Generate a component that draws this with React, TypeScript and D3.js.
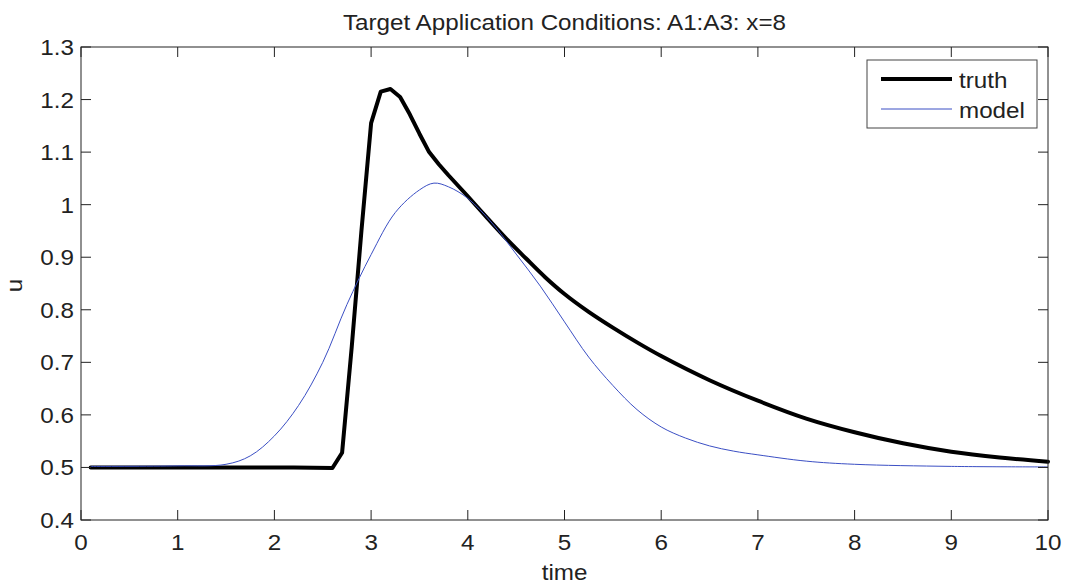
import React, { useEffect, useRef } from "react";
import * as d3 from "d3";

const W = 1067;
const H = 586;

const title = "Target Application Conditions: A1:A3: x=8";
const xLabel = "time";
const yLabel = "u";
const xTicks = [0, 1, 2, 3, 4, 5, 6, 7, 8, 9, 10];
const yTicks = [0.4, 0.5, 0.6, 0.7, 0.8, 0.9, 1, 1.1, 1.2, 1.3];

const truthT = [0.1, 1, 2, 2.2, 2.6, 2.7, 2.8, 2.9, 3.0, 3.1, 3.2, 3.3, 3.4, 3.5, 3.6, 3.7, 3.8, 3.9, 4.0, 4.2, 4.4, 4.6, 4.8, 5.0, 5.25, 5.5, 5.75, 6.0, 6.5, 7.0, 7.5, 8.0, 8.5, 9.0, 9.5, 10];
const truthU = [0.5, 0.5, 0.5, 0.5, 0.499, 0.528, 0.73, 0.95, 1.155, 1.215, 1.22, 1.205, 1.172, 1.135, 1.1, 1.077, 1.056, 1.036, 1.016, 0.975, 0.935, 0.898, 0.862, 0.83, 0.796, 0.766, 0.738, 0.712, 0.666, 0.627, 0.593, 0.567, 0.546, 0.53, 0.519, 0.511];

const modelT = [0.1, 1.0, 1.5, 1.75, 2.0, 2.25, 2.5, 2.75, 3.0, 3.25, 3.5, 3.65, 3.8, 4.0, 4.25, 4.5, 4.75, 5.0, 5.25, 5.5, 5.75, 6.0, 6.25, 6.5, 6.75, 7.0, 7.5, 8.0, 9.0, 10];
const modelU = [0.502, 0.503, 0.506, 0.522, 0.56, 0.618, 0.70, 0.81, 0.905, 0.985, 1.028, 1.041, 1.034, 1.012, 0.965, 0.906, 0.845, 0.777, 0.71, 0.656, 0.61, 0.577, 0.556, 0.541, 0.531, 0.524, 0.512, 0.506, 0.502, 0.501];

const legendNames = ["truth", "model"];
const colors = ["#000000", "#3b4fc4"];
const widths = [4, 1];

export default function App() {
  const ref = useRef<SVGSVGElement>(null);

  useEffect(() => {
    const svg = d3.select(ref.current);
    svg.selectAll("*").remove();
    const left = 81, right = 1048, top = 47, bottom = 520;
    const x = d3.scaleLinear().domain([0, 10]).range([left, right]);
    const y = d3.scaleLinear().domain([0.4, 1.3]).range([bottom, top]);
    const font = "'Liberation Sans', Arial, Helvetica, sans-serif";
    const fs = 22;
    const sx = 1.1;
    const tl = 10;

    const label = (tx: number, ty: number, s: string, anchor: string, rot = 0) =>
      svg.append("text")
        .attr("transform", `translate(${tx},${ty}) rotate(${rot}) scale(${sx},1)`)
        .attr("text-anchor", anchor)
        .attr("font-family", font).attr("font-size", fs).attr("fill", "#222").text(s);

    svg.append("rect").attr("width", W).attr("height", H).attr("fill", "#fff");

    const curveLine = d3.line<[number, number]>()
      .x((d) => x(d[0])).y((d) => y(d[1])).curve(d3.curveCatmullRom.alpha(0.5));
    const straightLine = d3.line<[number, number]>()
      .x((d) => x(d[0])).y((d) => y(d[1])).curve(d3.curveLinear);

    const truth = truthT.map((t, i) => [t, truthU[i]] as [number, number]);
    const model = modelT.map((t, i) => [t, modelU[i]] as [number, number]);
    const split = truthT.indexOf(4.0);
    const truthPath =
      (straightLine(truth.slice(0, split + 1)) as string) +
      (curveLine(truth.slice(split - 1)) as string);

    svg.append("path").attr("d", truthPath)
      .attr("fill", "none").attr("stroke", colors[0])
      .attr("stroke-width", widths[0]).attr("stroke-linejoin", "round").attr("stroke-linecap", "round");
    svg.append("path").attr("d", curveLine(model) as string)
      .attr("fill", "none").attr("stroke", colors[1])
      .attr("stroke-width", widths[1]).attr("stroke-linejoin", "round");

    const ax = svg.append("g").attr("stroke", "#222").attr("stroke-width", 1).attr("fill", "none");
    ax.append("rect").attr("x", left).attr("y", top).attr("width", right - left).attr("height", bottom - top);
    xTicks.forEach((t) => {
      ax.append("line").attr("x1", x(t)).attr("x2", x(t)).attr("y1", bottom).attr("y2", bottom - tl);
      ax.append("line").attr("x1", x(t)).attr("x2", x(t)).attr("y1", top).attr("y2", top + tl);
      label(x(t), bottom + 30, String(t), "middle");
    });
    yTicks.forEach((t) => {
      ax.append("line").attr("x1", left).attr("x2", left + tl).attr("y1", y(t)).attr("y2", y(t));
      ax.append("line").attr("x1", right).attr("x2", right - tl).attr("y1", y(t)).attr("y2", y(t));
      label(left - 7, y(t) + 8, d3.format("~g")(t), "end");
    });

    label((left + right) / 2, 30, title, "middle");
    label((left + right) / 2, 580, xLabel, "middle");
    label(22, (top + bottom) / 2 + 2, yLabel, "middle", -90);

    svg.append("rect").attr("x", 867).attr("y", 60).attr("width", 170).attr("height", 68)
      .attr("fill", "#fff").attr("stroke", "#444").attr("stroke-width", 1);
    legendNames.forEach((n, i) => {
      const ly = 79 + i * 30;
      svg.append("line").attr("x1", 881).attr("x2", 952).attr("y1", ly).attr("y2", ly)
        .attr("stroke", colors[i]).attr("stroke-width", widths[i]);
      label(959, ly + 9, n, "start");
    });
  }, []);

  return (
    <svg ref={ref} width={W} height={H} style={{ position: "fixed", left: 0, top: 0 }} />
  );
}
